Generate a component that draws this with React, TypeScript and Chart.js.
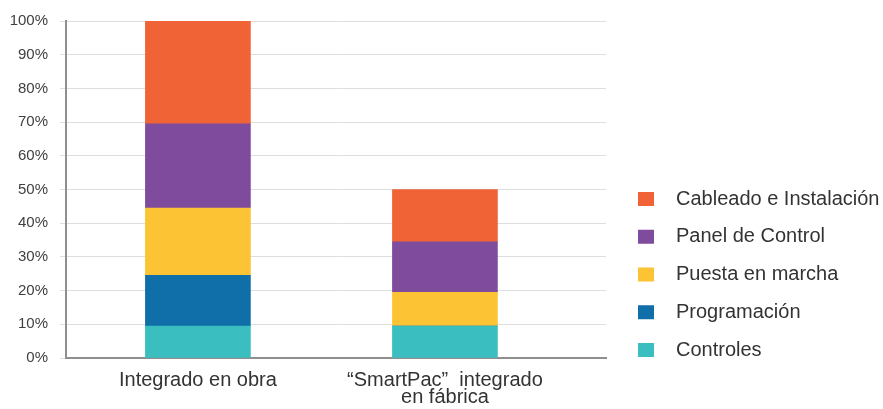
import React, { useEffect, useRef } from "react";
import { Chart, registerables } from "chart.js";

Chart.register(...registerables);

const categories: (string | string[])[] = [
  "Integrado en obra",
  ["“SmartPac”  integrado", "en fábrica"],
];
const seriesNames = [
  "Controles",
  "Programación",
  "Puesta en marcha",
  "Panel de Control",
  "Cableado e Instalación",
];
const controles = [9.5, 9.5];
const programacion = [15, 0];
const puestaEnMarcha = [20, 10];
const panelDeControl = [25, 15];
const cableado = [30.5, 15.5];
const seriesColors = ["#3BBEC0", "#106EA8", "#FCC334", "#7F4B9C", "#EF6337"];
const yTicks = [0, 10, 20, 30, 40, 50, 60, 70, 80, 90, 100];

const FONT = '"Liberation Sans", Arial, Helvetica, sans-serif';

const legendPlugin = {
  id: "sideLegend",
  afterDraw(chart: any) {
    const ctx = chart.ctx;
    const ds = chart.data.datasets.slice().reverse();
    ctx.save();
    ctx.font = `20px ${FONT}`;
    ctx.textBaseline = "middle";
    ctx.textAlign = "left";
    ds.forEach((d: any, i: number) => {
      const cy = 199 + i * 37.75;
      ctx.fillStyle = d.backgroundColor;
      ctx.fillRect(638, cy - 7, 16, 14);
      ctx.fillStyle = "#333333";
      ctx.fillText(d.label, 676, cy);
    });
    ctx.restore();
  },
};

export default function App() {
  const ref = useRef<HTMLCanvasElement | null>(null);
  useEffect(() => {
    document.body.style.margin = "0";
    const values = [controles, programacion, puestaEnMarcha, panelDeControl, cableado];
    const chart = new Chart(ref.current!, {
      type: "bar",
      data: {
        datasets: values.map((arr, k) => ({
          label: seriesNames[k],
          data: arr.map((v, i) => ({ x: i, y: v })),
          backgroundColor: seriesColors[k],
          borderWidth: 0,
          barThickness: 105,
        })),
      },
      options: {
        animation: false,
        responsive: false,
        layout: { padding: { left: 9, right: 277, top: 21, bottom: 0 } },
        plugins: { legend: { display: false }, tooltip: { enabled: false } },
        scales: {
          x: {
            type: "linear",
            stacked: true,
            offset: false,
            min: -0.534,
            max: 1.652,
            grid: { display: false, drawTicks: false },
            border: { display: true, color: "#8f8f8f", width: 2 },
            afterBuildTicks: (axis: any) => {
              axis.ticks = categories.map((_, i) => ({ value: i }));
            },
            afterFit: (axis: any) => {
              axis.height = 51;
            },
            ticks: {
              autoSkip: false,
              maxRotation: 0,
              padding: 14,
              color: "#333333",
              font: { family: FONT, size: 20, lineHeight: 0.85 },
              callback: (v: any) => categories[Math.round(Number(v))] as any,
            },
          },
          y: {
            stacked: true,
            min: 0,
            max: 100,
            afterBuildTicks: (axis: any) => {
              axis.ticks = yTicks.map((v) => ({ value: v }));
            },
            afterFit: (axis: any) => {
              axis.width = 57;
            },
            grid: { color: "#dedede", lineWidth: 1, tickLength: 6, tickColor: "#dedede" },
            border: { display: true, color: "#8f8f8f", width: 2 },
            ticks: {
              padding: 12,
              color: "#404040",
              font: { family: FONT, size: 15 },
              callback: (v: any) => `${v}%`,
            },
          },
        },
      },
      plugins: [legendPlugin],
    });
    return () => chart.destroy();
  }, []);
  return (
    <div style={{ width: 883, height: 409 }}>
      <canvas ref={ref} width={883} height={409} style={{ display: "block" }} />
    </div>
  );
}
